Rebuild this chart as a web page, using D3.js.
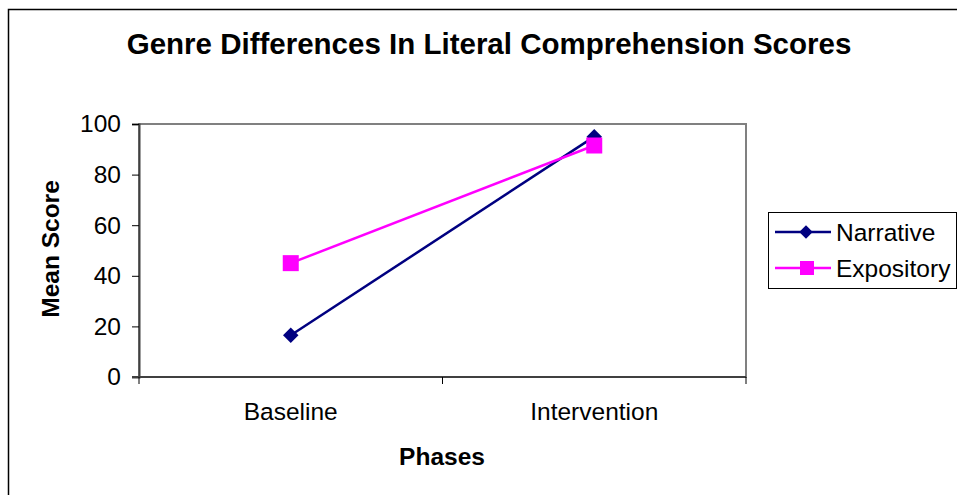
<!DOCTYPE html>
<html>
<head>
<meta charset="utf-8">
<script src="https://cdn.jsdelivr.net/npm/d3@7"></script>
<style>
  body { margin: 0; background: #fff; }
  svg { display: block; font-family: "Liberation Sans", Arial, sans-serif; }
</style>
</head>
<body>
<div id="chart"></div>
<script>
// chart data
const phases = ["Baseline", "Intervention"];
const narrative = [16.5, 95];
const expository = [45, 91.5];
const yTicks = [0, 20, 40, 60, 80, 100];
const seriesNames = ["Narrative", "Expository"];

const W = 957, H = 495;
const plot = {left: 139, right: 746, top: 124, bottom: 377};

const svg = d3.select("#chart").append("svg")
  .attr("width", W)
  .attr("height", H);

svg.append("rect").attr("width", W).attr("height", H).attr("fill", "#fff");

// outer chart border (only top/left visible in the reference)
svg.append("rect")
  .attr("x", 8.5).attr("y", 9.5)
  .attr("width", W + 20).attr("height", H + 20)
  .attr("fill", "none").attr("stroke", "#000").attr("stroke-width", 1.5);

const x = d3.scaleBand().domain(phases).range([plot.left, plot.right]);
const y = d3.scaleLinear().domain([0, 100]).range([plot.bottom, plot.top]);

// plot area frame
svg.append("rect")
  .attr("x", plot.left).attr("y", plot.top)
  .attr("width", plot.right - plot.left).attr("height", plot.bottom - plot.top)
  .attr("fill", "none").attr("stroke", "#808080").attr("stroke-width", 2);

// y axis
const yAxis = svg.append("g")
  .attr("transform", `translate(${plot.left},0)`)
  .call(d3.axisLeft(y).tickValues(yTicks).tickSize(7).tickPadding(11));
yAxis.select(".domain").attr("stroke", "#404040").attr("stroke-width", 2);
yAxis.selectAll(".tick line").attr("stroke", "#000");
yAxis.selectAll("text").attr("font-size", 24.5).attr("fill", "#000")
  .attr("font-family", "Liberation Sans, Arial, sans-serif");

// x axis: ticks between categories
const xAxis = svg.append("g")
  .attr("transform", `translate(0,${plot.bottom})`);
xAxis.append("line")
  .attr("x1", plot.left - 7).attr("x2", plot.right)
  .attr("stroke", "#404040").attr("stroke-width", 2);
const boundaries = [plot.left].concat(phases.map(p => x(p) + x.bandwidth()));
xAxis.selectAll(".xtick").data(boundaries).enter().append("line")
  .attr("x1", d => d).attr("x2", d => d)
  .attr("y1", 0).attr("y2", 7)
  .attr("stroke", "#000");
xAxis.selectAll(".xlabel").data(phases).enter().append("text")
  .attr("x", d => x(d) + x.bandwidth() / 2)
  .attr("y", 43)
  .attr("text-anchor", "middle")
  .attr("font-size", 24.5)
  .text(d => d);

const cx = d => x(d) + x.bandwidth() / 2;
const line = d3.line().x((d, i) => cx(phases[i])).y(d => y(d));

// Narrative line + diamonds
svg.append("path").datum(narrative)
  .attr("d", line).attr("fill", "none")
  .attr("stroke", "#000080").attr("stroke-width", 2.5);
// Expository line + squares
svg.append("path").datum(expository)
  .attr("d", line).attr("fill", "none")
  .attr("stroke", "#ff00ff").attr("stroke-width", 2.5);

svg.selectAll(".nar").data(narrative).enter().append("path")
  .attr("transform", (d, i) => `translate(${cx(phases[i])},${y(d)}) rotate(45)`)
  .attr("d", d3.symbol().type(d3.symbolSquare).size(120))
  .attr("fill", "#000080");
svg.selectAll(".exp").data(expository).enter().append("rect")
  .attr("x", (d, i) => cx(phases[i]) - 8)
  .attr("y", d => y(d) - 8)
  .attr("width", 16).attr("height", 16)
  .attr("fill", "#ff00ff");

// title and axis titles
svg.append("text")
  .attr("x", 489).attr("y", 54)
  .attr("text-anchor", "middle")
  .attr("font-size", 29.5).attr("font-weight", "bold")
  .text("Genre Differences In Literal Comprehension Scores");

svg.append("text")
  .attr("transform", `translate(59,249) rotate(-90)`)
  .attr("text-anchor", "middle")
  .attr("font-size", 24.5).attr("font-weight", "bold")
  .text("Mean Score");

svg.append("text")
  .attr("x", 442).attr("y", 465)
  .attr("text-anchor", "middle")
  .attr("font-size", 24.5).attr("font-weight", "bold")
  .text("Phases");

// legend
const legend = svg.append("g").attr("transform", "translate(768,212)");
legend.append("rect")
  .attr("x", 0.5).attr("y", 0.5).attr("width", 188).attr("height", 76)
  .attr("fill", "#fff").attr("stroke", "#000").attr("stroke-width", 1);
const colors = ["#000080", "#ff00ff"];
seriesNames.forEach((name, i) => {
  const ly = 20 + i * 36;
  legend.append("line")
    .attr("x1", 7).attr("x2", 63).attr("y1", ly).attr("y2", ly)
    .attr("stroke", colors[i]).attr("stroke-width", 2.5);
  if (i === 0) {
    legend.append("path")
      .attr("transform", `translate(38,${ly}) rotate(45)`)
      .attr("d", d3.symbol().type(d3.symbolSquare).size(90))
      .attr("fill", colors[i]);
  } else {
    legend.append("rect")
      .attr("x", 32).attr("y", ly - 7).attr("width", 14).attr("height", 14)
      .attr("fill", colors[i]);
  }
  legend.append("text")
    .attr("x", 68).attr("y", ly + 8.5)
    .attr("font-size", 24.5)
    .text(name);
});
</script>
</body>
</html>
